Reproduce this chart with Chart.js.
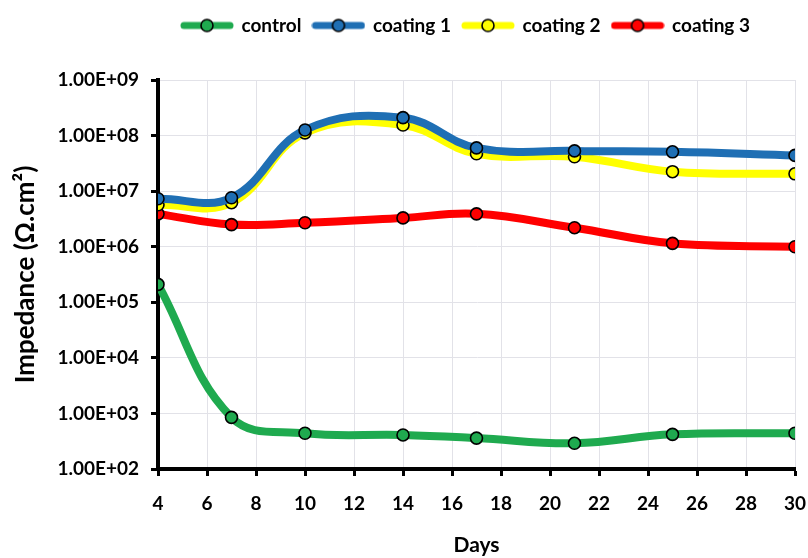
<!DOCTYPE html>
<html>
<head>
<meta charset="utf-8">
<script src="https://cdn.jsdelivr.net/npm/chart.js@4"></script>
<style>
  html, body { margin: 0; padding: 0; background: #fff; }
  #wrap { width: 808px; height: 558px; }
</style>
</head>
<body>
<div id="wrap"><canvas id="impedance_chart"></canvas></div>
<script>
const days = [4, 7, 10, 14, 17, 21, 25, 30];
const seriesNames = ['control', 'coating 1', 'coating 2', 'coating 3'];
const control = [2.1e5, 8.5e2, 4.4e2, 4.1e2, 3.6e2, 2.9e2, 4.2e2, 4.4e2];
const coating1 = [7.3e6, 7.6e6, 1.26e8, 2.1e8, 6.0e7, 5.3e7, 5.1e7, 4.4e7];
const coating2 = [5.7e6, 6.2e6, 1.12e8, 1.55e8, 4.7e7, 4.15e7, 2.24e7, 2.05e7];
const coating3 = [3.9e6, 2.5e6, 2.7e6, 3.3e6, 3.9e6, 2.2e6, 1.15e6, 1.0e6];
const yTicks = [1e2, 1e3, 1e4, 1e5, 1e6, 1e7, 1e8, 1e9];

const colors = ['#1faa4f', '#1f6fb4', '#ffff00', '#ff0000'];
const FONT = 'Lato';

const toPoints = (values) => values.map((v, i) => ({ x: days[i], y: v }));

// little line + circle image for the legend, like Excel
const legendMark = (color) => {
  const c = document.createElement('canvas');
  c.width = 54;
  c.height = 16;
  const ctx = c.getContext('2d');
  ctx.strokeStyle = color;
  ctx.lineWidth = 7;
  ctx.lineCap = 'round';
  ctx.beginPath();
  ctx.moveTo(4, 8);
  ctx.lineTo(50, 8);
  ctx.stroke();
  ctx.beginPath();
  ctx.arc(27, 8, 6, 0, Math.PI * 2);
  ctx.fillStyle = color;
  ctx.fill();
  ctx.lineWidth = 1.6;
  ctx.strokeStyle = '#000';
  ctx.stroke();
  return c;
};

const allValues = [control, coating1, coating2, coating3];

const datasets = allValues.map((values, i) => ({
  label: seriesNames[i],
  data: toPoints(values),
  borderColor: colors[i],
  backgroundColor: colors[i],
  borderWidth: 8,
  tension: 0.4,
  pointRadius: 6,
  pointBorderWidth: 1.6,
  pointBorderColor: '#000',
  pointBackgroundColor: colors[i],
  pointStyle: 'circle'
}));

const formatExp = (v) => {
  const e = Math.round(Math.log10(v));
  return '1.00E+' + String(e).padStart(2, '0');
};

// push the plot down under the legend, and nudge the legend right
const legendSpace = {
  id: 'legendSpace',
  afterInit(chart) {
    const legend = chart.legend;
    const fit = legend.fit;
    const draw = legend.draw;
    legend.fit = function () {
      fit.call(this);
      this.height += 37;
    };
    legend.draw = function () {
      const ctx = this.ctx;
      ctx.save();
      ctx.translate(62, 2);
      draw.call(this);
      ctx.restore();
    };
  }
};

new Chart(document.getElementById('impedance_chart'), {
  type: 'line',
  data: { datasets },
  plugins: [legendSpace],
  options: {
    responsive: true,
    maintainAspectRatio: false,
    animation: false,
    layout: { padding: { top: 2, right: 0, left: 0, bottom: 0 } },
    plugins: {
      tooltip: { enabled: false },
      legend: {
        position: 'top',
        labels: {
          color: '#000',
          font: { family: FONT, size: 19, weight: 'bold' },
          boxWidth: 54,
          boxHeight: 16,
          pointStyleWidth: 50,
          padding: 12,
          usePointStyle: true,
          generateLabels: (chart) => chart.data.datasets.map((ds, i) => ({
            text: ds.label,
            pointStyle: legendMark(colors[i]),
            fillStyle: colors[i],
            strokeStyle: colors[i],
            lineWidth: 0,
            hidden: false,
            datasetIndex: i
          }))
        }
      }
    },
    scales: {
      x: {
        type: 'linear',
        min: 4,
        max: 30,
        ticks: {
          stepSize: 2,
          color: '#000',
          padding: 16,
          font: { family: FONT, size: 19, weight: 'bold' }
        },
        grid: {
          color: '#e2e2e8',
          lineWidth: 1,
          tickLength: 7,
          tickColor: '#000',
          tickWidth: 3
        },
        border: { color: '#000', width: 4 },
        title: {
          display: true,
          text: 'Days',
          color: '#000',
          font: { family: FONT, size: 21, weight: 'bold' },
          padding: { top: 10, bottom: 0 }
        },
        afterFit: (scale) => {
          scale.height = 89;
          scale.paddingRight = 13;
        }
      },
      y: {
        type: 'logarithmic',
        min: 1e2,
        max: 1e9,
        afterBuildTicks: (scale) => {
          scale.ticks = yTicks.map(v => ({ value: v }));
        },
        ticks: {
          color: '#000',
          padding: 12,
          font: { family: FONT, size: 19, weight: 'bold' },
          callback: (v) => formatExp(v)
        },
        grid: {
          color: '#e2e2e8',
          lineWidth: 1,
          tickLength: 7,
          tickColor: '#000',
          tickWidth: 3
        },
        border: { color: '#000', width: 4 },
        title: {
          display: true,
          text: 'Impedance (Ω.cm²)',
          color: '#000',
          font: { family: FONT, size: 26, weight: 'bold' },
          padding: { top: 10, bottom: 4 }
        },
        afterFit: (scale) => { scale.width = 158; }
      }
    }
  }
});
</script>
</body>
</html>
